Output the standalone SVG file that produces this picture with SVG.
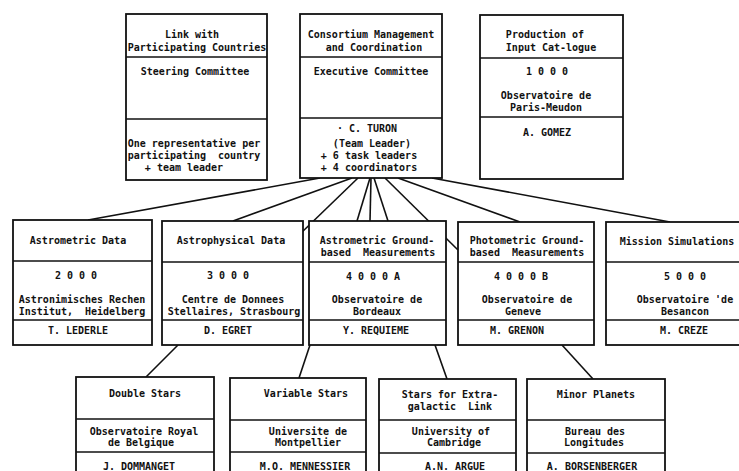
<svg xmlns="http://www.w3.org/2000/svg" width="739" height="471" viewBox="0 0 739 471">
<style>
  .box { fill: #fff; stroke: #111; stroke-width: 1.8; }
  .div { stroke: #111; stroke-width: 1.6; }
  .con line { stroke: #111; stroke-width: 1.6; fill: none; }
  text { font-family: "DejaVu Sans Mono", "Liberation Mono", monospace; font-weight: bold; font-size: 10px; fill: #111; text-anchor: middle; white-space: pre; }
</style>
<rect width="739" height="471" fill="#fff"/>
<g id="connectors" class="con">
  <line x1="320" y1="178" x2="88" y2="220"/>
  <line x1="352" y1="178" x2="233" y2="221"/>
  <line x1="358" y1="178" x2="300" y2="234"/>
  <line x1="370" y1="178" x2="357" y2="221"/>
  <line x1="371" y1="178" x2="370" y2="221"/>
  <line x1="374" y1="178" x2="388" y2="221"/>
  <line x1="385" y1="178" x2="458" y2="250"/>
  <line x1="398" y1="178" x2="520" y2="222"/>
  <line x1="432" y1="178" x2="670" y2="222"/>
  <line x1="178" y1="345" x2="146" y2="377"/>
  <line x1="310" y1="345" x2="299" y2="378"/>
  <line x1="435" y1="345" x2="447" y2="379"/>
  <line x1="562" y1="345" x2="593" y2="379"/>
</g>
<g id="steering">
  <rect class="box" x="126" y="14" width="141" height="166"/>
  <line class="div" x1="126" y1="57" x2="267" y2="57"/>
  <line class="div" x1="126" y1="119" x2="267" y2="119"/>
  <text x="192" y="38">Link with</text>
  <text x="197" y="51">Participating Countries</text>
  <text x="195" y="75">Steering Committee</text>
  <text x="194" y="147">One representative per</text>
  <text x="194" y="159" xml:space="preserve">participating  country</text>
  <text x="184" y="171">+ team leader</text>
</g>
<g id="executive">
  <rect class="box" x="300" y="14" width="142" height="164"/>
  <line class="div" x1="300" y1="57" x2="442" y2="57"/>
  <line class="div" x1="300" y1="118" x2="442" y2="118"/>
  <text x="371" y="38">Consortium Management</text>
  <text x="374" y="51">and Coordination</text>
  <text x="371" y="75">Executive Committee</text>
  <text x="367" y="132">· C. TURON</text>
  <text x="372" y="147">(Team Leader)</text>
  <text x="369" y="159">+ 6 task leaders</text>
  <text x="369" y="171">+ 4 coordinators</text>
</g>
<g id="input-catalogue">
  <rect class="box" x="480" y="15" width="143" height="164"/>
  <line class="div" x1="480" y1="58" x2="623" y2="58"/>
  <line class="div" x1="480" y1="117" x2="623" y2="117"/>
  <text x="545" y="38">Production of</text>
  <text x="551" y="51">Input Cat-logue</text>
  <text x="547" y="75">1 0 0 0</text>
  <text x="546" y="99">Observatoire de</text>
  <text x="546" y="111">Paris-Meudon</text>
  <text x="547" y="136">A. GOMEZ</text>
</g>
<g id="astrometric-data">
  <rect class="box" x="13" y="220" width="139" height="125"/>
  <line class="div" x1="13" y1="261" x2="152" y2="261"/>
  <line class="div" x1="13" y1="320" x2="152" y2="320"/>
  <text x="78" y="244">Astrometric Data</text>
  <text x="76" y="279">2 0 0 0</text>
  <text x="82" y="303">Astronimisches Rechen</text>
  <text x="82" y="314.5" xml:space="preserve">Institut,  Heidelberg</text>
  <text x="78" y="334">T. LEDERLE</text>
</g>
<g id="astrophysical-data">
  <rect class="box" x="162" y="221" width="141" height="124"/>
  <line class="div" x1="162" y1="262" x2="303" y2="262"/>
  <line class="div" x1="162" y1="320" x2="303" y2="320"/>
  <text x="231" y="244">Astrophysical Data</text>
  <text x="228" y="279">3 0 0 0</text>
  <text x="233" y="303">Centre de Donnees</text>
  <text x="234" y="314.5">Stellaires, Strasbourg</text>
  <text x="228" y="334">D. EGRET</text>
</g>
<g id="astrometric-ground">
  <rect class="box" x="309" y="221" width="137" height="124"/>
  <line class="div" x1="309" y1="262" x2="446" y2="262"/>
  <line class="div" x1="309" y1="320" x2="446" y2="320"/>
  <text x="377" y="244">Astrometric Ground-</text>
  <text x="378" y="256" xml:space="preserve">based  Measurements</text>
  <text x="373" y="280">4 0 0 0 A</text>
  <text x="377" y="303">Observatoire de</text>
  <text x="377" y="314.5">Bordeaux</text>
  <text x="376" y="334">Y. REQUIEME</text>
</g>
<g id="photometric-ground">
  <rect class="box" x="458" y="222" width="136" height="123"/>
  <line class="div" x1="458" y1="262" x2="594" y2="262"/>
  <line class="div" x1="458" y1="320" x2="594" y2="320"/>
  <text x="527" y="244">Photometric Ground-</text>
  <text x="527" y="256" xml:space="preserve">based  Measurements</text>
  <text x="521" y="280">4 0 0 0 B</text>
  <text x="527" y="303">Observatoire de</text>
  <text x="523" y="314.5">Geneve</text>
  <text x="517" y="334">M. GRENON</text>
</g>
<g id="mission-simulations">
  <rect class="box" x="606" y="222" width="140" height="123"/>
  <line class="div" x1="606" y1="262" x2="746" y2="262"/>
  <line class="div" x1="606" y1="320" x2="746" y2="320"/>
  <text x="677" y="245">Mission Simulations</text>
  <text x="685" y="280">5 0 0 0</text>
  <text x="685" y="303">Observatoire 'de</text>
  <text x="685" y="314.5">Besancon</text>
  <text x="684" y="334">M. CREZE</text>
</g>
<g id="double-stars">
  <rect class="box" x="76" y="377" width="138" height="110"/>
  <line class="div" x1="76" y1="419" x2="214" y2="419"/>
  <line class="div" x1="76" y1="452" x2="214" y2="452"/>
  <text x="145" y="397">Double Stars</text>
  <text x="144" y="435">Observatoire Royal</text>
  <text x="141" y="446">de Belgique</text>
  <text x="139" y="470">J. DOMMANGET</text>
</g>
<g id="variable-stars">
  <rect class="box" x="230" y="378" width="136" height="110"/>
  <line class="div" x1="230" y1="420" x2="366" y2="420"/>
  <line class="div" x1="230" y1="452" x2="366" y2="452"/>
  <text x="306" y="397">Variable Stars</text>
  <text x="308" y="435">Universite de</text>
  <text x="308" y="446">Montpellier</text>
  <text x="305" y="470">M.O. MENNESSIER</text>
</g>
<g id="extragalactic-link">
  <rect class="box" x="379" y="379" width="137" height="110"/>
  <line class="div" x1="379" y1="420" x2="516" y2="420"/>
  <line class="div" x1="379" y1="453" x2="516" y2="453"/>
  <text x="450" y="398">Stars for Extra-</text>
  <text x="450" y="410" xml:space="preserve">galactic  Link</text>
  <text x="451" y="435">University of</text>
  <text x="454" y="446">Cambridge</text>
  <text x="455" y="470">A.N. ARGUE</text>
</g>
<g id="minor-planets">
  <rect class="box" x="527" y="379" width="138" height="110"/>
  <line class="div" x1="527" y1="420" x2="665" y2="420"/>
  <line class="div" x1="527" y1="453" x2="665" y2="453"/>
  <text x="596" y="398">Minor Planets</text>
  <text x="595" y="435">Bureau des</text>
  <text x="594" y="446">Longitudes</text>
  <text x="592" y="470">A. BORSENBERGER</text>
</g>
</svg>
